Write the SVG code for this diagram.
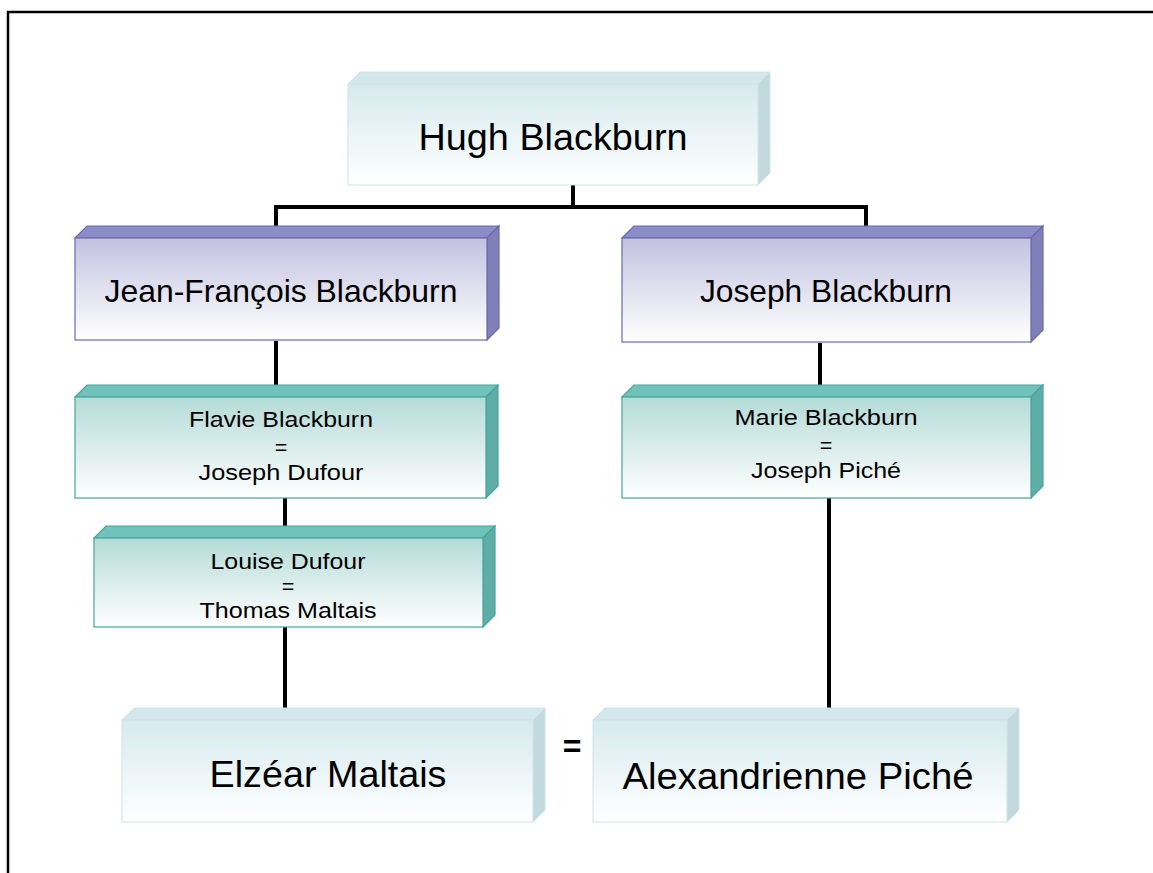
<svg xmlns="http://www.w3.org/2000/svg" width="1153" height="873" viewBox="0 0 1153 873">
  <defs>
    <linearGradient id="gPale" x1="0" y1="0" x2="0" y2="1">
      <stop offset="0" stop-color="#d6eaee"/>
      <stop offset="1" stop-color="#ffffff"/>
    </linearGradient>
    <linearGradient id="gViolet" x1="0" y1="0" x2="0" y2="1">
      <stop offset="0" stop-color="#c2c2e0"/>
      <stop offset="1" stop-color="#ffffff"/>
    </linearGradient>
    <linearGradient id="gTeal" x1="0" y1="0" x2="0" y2="1">
      <stop offset="0" stop-color="#b4dbd7"/>
      <stop offset="1" stop-color="#ffffff"/>
    </linearGradient>
    <style>
      text { font-family: "Liberation Sans", Arial, sans-serif; fill: #000; text-anchor: middle; }
      .big { font-size: 36px; }
      .mid { font-size: 32px; }
      .small { font-size: 21.5px; }
      .eq { font-size: 32px; font-weight: bold; }
      .pale .front { fill: url(#gPale); stroke: #cfe2e5; stroke-width: 1; }
      .pale .top { fill: #d3e8ec; stroke: #cfe2e5; stroke-width: 1; }
      .pale .side { fill: #c2d9dd; stroke: #cfe2e5; stroke-width: 1; }
      .violet .front { fill: url(#gViolet); stroke: #6a6aac; stroke-width: 1.2; }
      .violet .top { fill: #8c8cc8; stroke: #6a6aac; stroke-width: 1.2; }
      .violet .side { fill: #7f7fb9; stroke: #6a6aac; stroke-width: 1.2; }
      .teal .front { fill: url(#gTeal); stroke: #48a49c; stroke-width: 1.2; }
      .teal .top { fill: #70c2ba; stroke: #48a49c; stroke-width: 1.2; }
      .teal .side { fill: #5eaea7; stroke: #48a49c; stroke-width: 1.2; }
      .conn { stroke: #000; stroke-width: 4; fill: none; }
    </style>
  </defs>

  <rect width="1153" height="873" fill="#ffffff"/>
  <!-- page frame -->
  <rect x="8" y="12" width="1160" height="880" fill="none" stroke="#000" stroke-width="2.5"/>

  <!-- connectors -->
  <g id="connectors" class="conn">
    <path d="M573 185 V207 M276 207 H866 M276 205 V227 M866 205 V227"/>
    <path d="M276 341 V385"/>
    <path d="M820 343 V385"/>
    <path d="M285 498 V526"/>
    <path d="M285 627 V709"/>
    <path d="M829 498 V709"/>
  </g>

  <!-- Hugh Blackburn -->
  <g id="hugh" class="pale">
    <polygon class="top" points="348,84 360,72 770,72 758,84"/>
    <polygon class="side" points="758,84 770,72 770,173 758,185"/>
    <rect class="front" x="348" y="84" width="410" height="101"/>
    <text class="big" x="553" y="150" textLength="269" lengthAdjust="spacingAndGlyphs">Hugh Blackburn</text>
  </g>

  <!-- Jean-François Blackburn -->
  <g id="jean-francois" class="violet">
    <polygon class="top" points="75,238 87,226 499,226 487,238"/>
    <polygon class="side" points="487,238 499,226 499,328 487,340"/>
    <rect class="front" x="75" y="238" width="412" height="102"/>
    <text class="mid" x="281" y="302" textLength="353" lengthAdjust="spacingAndGlyphs">Jean-François Blackburn</text>
  </g>

  <!-- Joseph Blackburn -->
  <g id="joseph" class="violet">
    <polygon class="top" points="622,238 634,226 1043,226 1031,238"/>
    <polygon class="side" points="1031,238 1043,226 1043,330 1031,342"/>
    <rect class="front" x="622" y="238" width="409" height="104"/>
    <text class="mid" x="826" y="302" textLength="252" lengthAdjust="spacingAndGlyphs">Joseph Blackburn</text>
  </g>

  <!-- Flavie Blackburn = Joseph Dufour -->
  <g id="flavie" class="teal">
    <polygon class="top" points="75,397 87,385 498,385 486,397"/>
    <polygon class="side" points="486,397 498,385 498,486 486,498"/>
    <rect class="front" x="75" y="397" width="411" height="101"/>
    <text class="small" x="281" y="427" textLength="184" lengthAdjust="spacingAndGlyphs">Flavie Blackburn</text>
    <text class="small" x="281" y="455">=</text>
    <text class="small" x="281" y="480" textLength="165" lengthAdjust="spacingAndGlyphs">Joseph Dufour</text>
  </g>

  <!-- Marie Blackburn = Joseph Piché -->
  <g id="marie" class="teal">
    <polygon class="top" points="622,397 634,385 1043,385 1031,397"/>
    <polygon class="side" points="1031,397 1043,385 1043,486 1031,498"/>
    <rect class="front" x="622" y="397" width="409" height="101"/>
    <text class="small" x="826" y="425" textLength="183" lengthAdjust="spacingAndGlyphs">Marie Blackburn</text>
    <text class="small" x="826" y="453">=</text>
    <text class="small" x="826" y="478" textLength="150" lengthAdjust="spacingAndGlyphs">Joseph Piché</text>
  </g>

  <!-- Louise Dufour = Thomas Maltais -->
  <g id="louise" class="teal">
    <polygon class="top" points="94,538 106,526 495,526 483,538"/>
    <polygon class="side" points="483,538 495,526 495,615 483,627"/>
    <rect class="front" x="94" y="538" width="389" height="89"/>
    <text class="small" x="288" y="569" textLength="155" lengthAdjust="spacingAndGlyphs">Louise Dufour</text>
    <text class="small" x="288" y="594">=</text>
    <text class="small" x="288" y="618" textLength="177" lengthAdjust="spacingAndGlyphs">Thomas Maltais</text>
  </g>

  <!-- Elzéar Maltais -->
  <g id="elzear" class="pale">
    <polygon class="top" points="122,720 134,708 545,708 533,720"/>
    <polygon class="side" points="533,720 545,708 545,810 533,822"/>
    <rect class="front" x="122" y="720" width="411" height="102"/>
    <text class="big" x="328" y="787" textLength="237" lengthAdjust="spacingAndGlyphs">Elzéar Maltais</text>
  </g>

  <!-- marriage sign -->
  <g id="marriage">
    <text class="eq" x="572" y="757">=</text>
  </g>

  <!-- Alexandrienne Piché -->
  <g id="alexandrienne" class="pale">
    <polygon class="top" points="593,720 605,708 1019,708 1007,720"/>
    <polygon class="side" points="1007,720 1019,708 1019,810 1007,822"/>
    <rect class="front" x="593" y="720" width="414" height="102"/>
    <text class="big" x="798" y="789" textLength="351" lengthAdjust="spacingAndGlyphs">Alexandrienne Piché</text>
  </g>
</svg>
